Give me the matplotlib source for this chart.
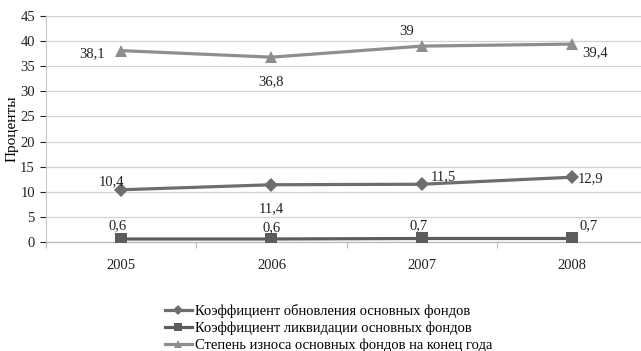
import matplotlib

matplotlib.use("Agg")
import matplotlib.pyplot as plt

years = ["2005", "2006", "2007", "2008"]
renewal = [10.4, 11.4, 11.5, 12.9]
liquidation = [0.6, 0.6, 0.7, 0.7]
wear = [38.1, 36.8, 39.0, 39.4]
labels_renewal = ["10,4", "11,4", "11,5", "12,9"]
labels_liquidation = ["0,6", "0,6", "0,7", "0,7"]
labels_wear = ["38,1", "36,8", "39", "39,4"]
series_names = [
    "Коэффициент обновления основных фондов",
    "Коэффициент ликвидации основных фондов",
    "Степень износа основных фондов на конец года",
]
yticks = list(range(0, 50, 5))

plt.rcParams.update({
    "font.family": ["Liberation Serif", "DejaVu Serif"],
    "font.size": 10.5,
})

fig = plt.figure(figsize=(6.41, 3.51), dpi=100)
ax = fig.add_axes([0.0718, 0.3105, 0.9282, 0.644])

x = list(range(len(years)))

# (values, label texts, colour, marker, marker size, label offsets in px)
styles = [
    (renewal, labels_renewal, "#6e6e6e", "D", 7.5,
     [(-10, 8), (0, -24), (22, 8), (19, -1)]),
    (liquidation, labels_liquidation, "#5c5c5c", "s", 8.5,
     [(-4, 13), (0, 11), (-3, 13), (17, 13)]),
    (wear, labels_wear, "#8e8e8e", "^", 9,
     [(-29, -3), (0, -25), (-15, 15), (23, -9)]),
]

for (vals, texts, color, marker, ms, offsets), name in zip(styles, series_names):
    ax.plot(x, vals, color=color, linewidth=2.3, marker=marker, markersize=ms,
            markeredgewidth=0, label=name, zorder=3)
    for xi, v, t, off in zip(x, vals, texts, offsets):
        ax.annotate(t, (xi, v), xytext=off, textcoords="offset pixels",
                    ha="center", va="center", fontsize=10.5, color="#222222")

ax.set_xlim(-0.5, 3.46)
ax.set_ylim(0, 45)
ax.set_yticks(yticks)
ax.set_xticks(x)
ax.set_xticklabels(years)
ax.set_xticks([-0.5, 0.5, 1.5, 2.5], minor=True)
ax.tick_params(axis="x", which="major", length=0, pad=12)
ax.tick_params(axis="x", which="minor", length=4, color="#bbbbbb", width=0.8)
ax.tick_params(axis="y", length=4, color="#bbbbbb", width=0.8, pad=4)
ax.tick_params(labelsize=10.5, colors="#222222")
ax.grid(True, axis="y", color="#d3d3d3", linewidth=0.9)
ax.set_axisbelow(True)
for side in ("top", "right"):
    ax.spines[side].set_visible(False)
ax.spines["left"].set_color("#c8c8c8")
ax.spines["bottom"].set_color("#b8b8b8")
ax.spines["bottom"].set_linewidth(0.9)
ax.set_ylabel("Проценты", fontsize=11, labelpad=1)

fig.legend(loc="upper left", bbox_to_anchor=(0.257, 0.135), fontsize=10.5,
           frameon=False, handlelength=1.85, handletextpad=0.2,
           labelspacing=0.25, borderaxespad=0, borderpad=0, markerscale=0.7)

fig.savefig("out.png", dpi=100)
